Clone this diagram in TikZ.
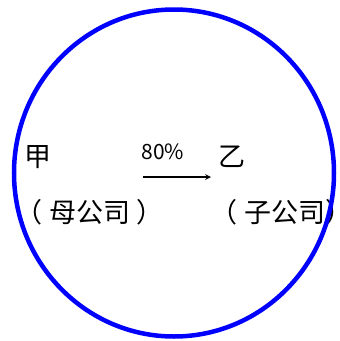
\documentclass[tikz,border=0pt]{standalone}
\usepackage{fontspec}
\newfontfamily\cjk{Noto Sans CJK SC}
\usepackage{tikz}
\usetikzlibrary{shapes.geometric}

\begin{document}
\begin{tikzpicture}[
    x=1pt,
    y=-1pt,
    ring/.style={
        ellipse,
        draw=blue,
        line width=4.5pt,
        minimum width=320pt,
        minimum height=327pt
    },
    label/.style={
        font=\cjk\fontsize{27}{27}\selectfont,
        inner sep=0pt
    },
    share/.style={
        font=\cjk\fontsize{21}{21}\selectfont,
        inner sep=0pt
    },
    arrow/.style={
        -stealth,
        line width=1.6pt
    }
]
\useasboundingbox (0,0) rectangle (340,341);

% Parent company
\node[label] (jia) at (38,157) {甲};
\node[label, anchor=west] (parent) at (15,212) {（\hspace{7pt}母公司\hspace{6pt}）};

% Subsidiary
\node[label] (yi) at (232,157) {乙};
\node[label, anchor=west] (child) at (210,212) {（\hspace{7pt}子公司）};

% Holding arrow
\coordinate (from) at (143,177);
\coordinate (to) at (211,177);
\draw[arrow] (from) -- (to);
\node[share] (ratio) at (163,152) {80\%};

% Group circle
\node[ring] (group) at (174,173) {};

\end{tikzpicture}
\end{document}
